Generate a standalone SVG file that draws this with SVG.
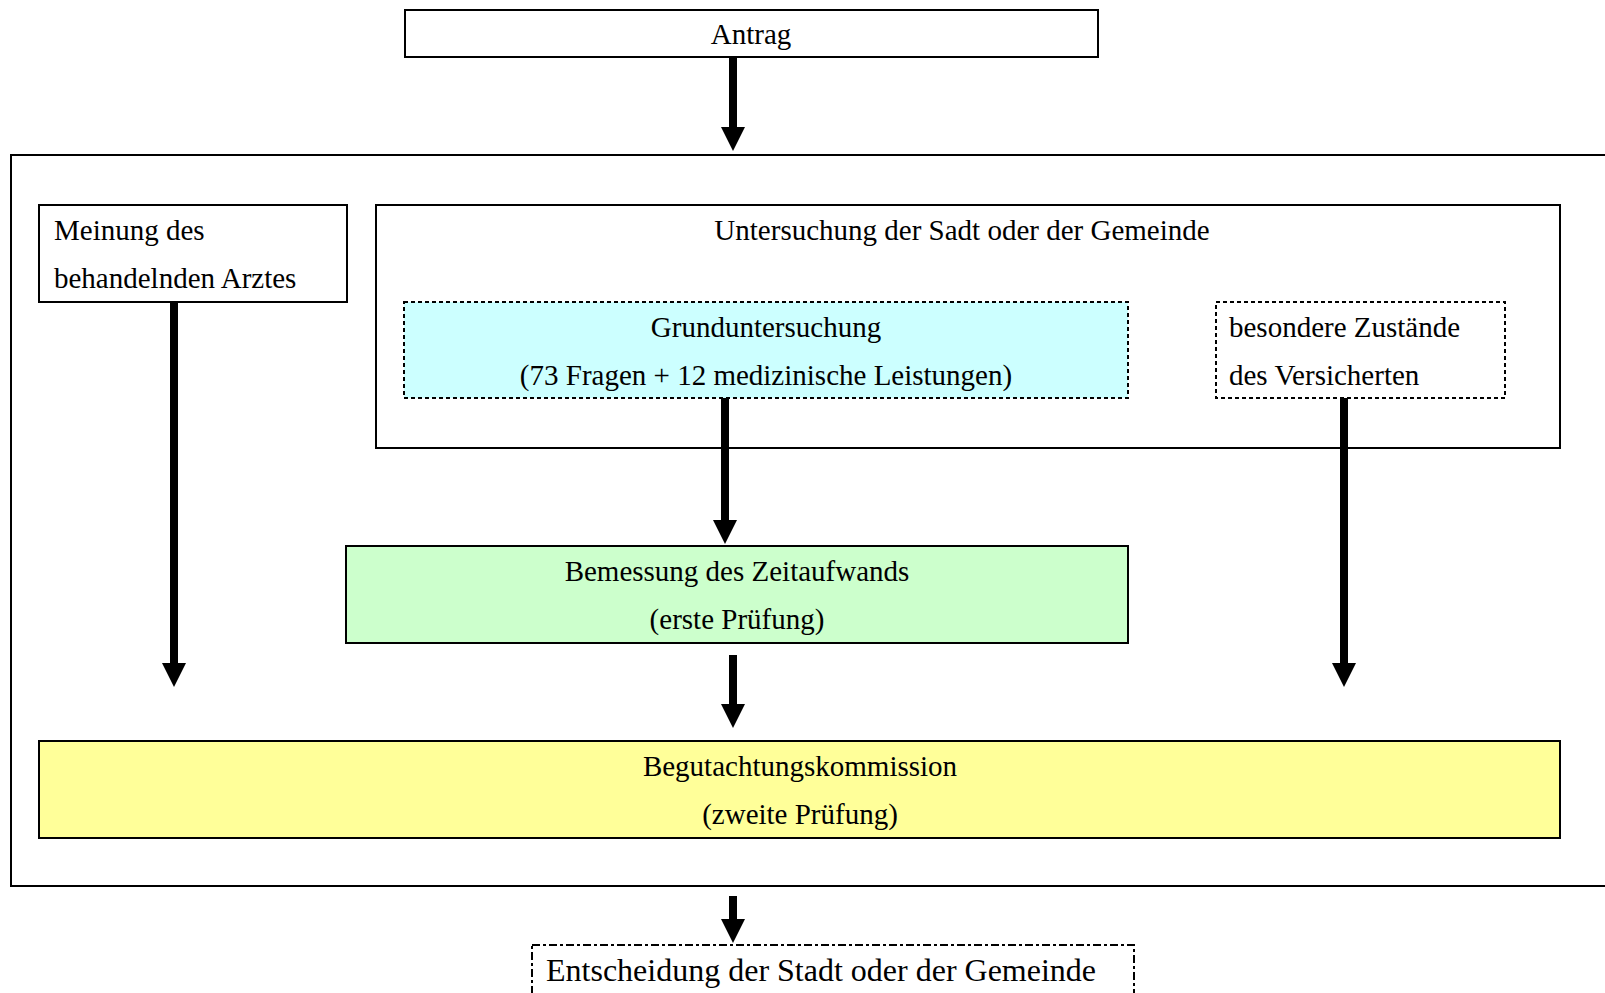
<svg xmlns="http://www.w3.org/2000/svg" width="1605" height="993" viewBox="0 0 1605 993">
<style>
.b{fill:#fff;stroke:#000;stroke-width:2}
.d{stroke:#000;stroke-width:2;stroke-dasharray:4 3}
.t{font-family:"Liberation Serif","Times New Roman",serif;font-size:29px;fill:#000}
.c{text-anchor:middle}
.a{stroke:#000;stroke-width:8;fill:none}
</style>
<defs>
<marker id="ah" viewBox="0 0 24 24" refX="0" refY="12" markerWidth="24" markerHeight="24" markerUnits="userSpaceOnUse" orient="auto">
<path d="M0,0 L24,12 L0,24 Z" fill="#000"/>
</marker>
</defs>
<rect width="1605" height="993" fill="#fff"/>
<g id="outer"><rect x="11" y="155" width="1610" height="731" class="b"/></g>
<g id="antrag"><rect x="405" y="10" width="693" height="47" class="b"/><text x="751" y="44" class="t c">Antrag</text></g>
<g id="meinung"><rect x="39" y="205" width="308" height="97" class="b"/><text x="54" y="240" class="t">Meinung des</text><text x="54" y="288" class="t">behandelnden Arztes</text></g>
<g id="untersuchung"><rect x="376" y="205" width="1184" height="243" class="b"/><text x="962" y="240" class="t c">Untersuchung der Sadt oder der Gemeinde</text></g>
<g id="grund"><rect x="404" y="302" width="724" height="96" fill="#ccffff" class="d"/><text x="766" y="337" class="t c">Grunduntersuchung</text><text x="766" y="385" class="t c">(73 Fragen + 12 medizinische Leistungen)</text></g>
<g id="besondere"><rect x="1216" y="302" width="289" height="96" fill="#fff" class="d"/><text x="1229" y="337" class="t">besondere Zustände</text><text x="1229" y="385" class="t">des Versicherten</text></g>
<g id="bemessung"><rect x="346" y="546" width="782" height="97" fill="#ccffcc" stroke="#000" stroke-width="2"/><text x="737" y="581" class="t c">Bemessung des Zeitaufwands</text><text x="737" y="629" class="t c">(erste Prüfung)</text></g>
<g id="begutachtung"><rect x="39" y="741" width="1521" height="97" fill="#ffff99" stroke="#000" stroke-width="2"/><text x="800" y="776" class="t c">Begutachtungskommission</text><text x="800" y="824" class="t c">(zweite Prüfung)</text></g>
<g id="entscheidung"><rect x="532" y="945" width="602" height="60" fill="#fff" stroke="#000" stroke-width="2" stroke-dasharray="8 3 3 3"/><text x="546" y="981" class="t" style="font-size:32px">Entscheidung der Stadt oder der Gemeinde</text></g>
<g id="connectors">
<line x1="733" y1="57" x2="733" y2="127" class="a" marker-end="url(#ah)"/>
<line x1="174" y1="302" x2="174" y2="663" class="a" marker-end="url(#ah)"/>
<line x1="725" y1="398" x2="725" y2="520" class="a" marker-end="url(#ah)"/>
<line x1="1344" y1="398" x2="1344" y2="663" class="a" marker-end="url(#ah)"/>
<line x1="733" y1="655" x2="733" y2="704" class="a" marker-end="url(#ah)"/>
<line x1="733" y1="896" x2="733" y2="919" class="a" marker-end="url(#ah)"/>
</g>
</svg>
